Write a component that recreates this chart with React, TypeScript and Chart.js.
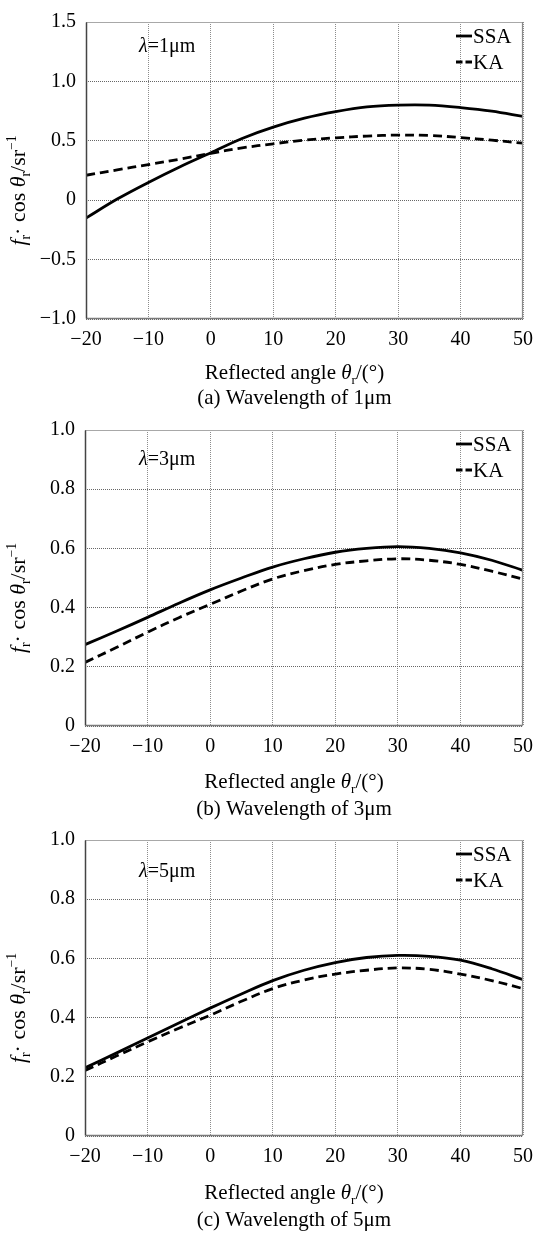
import React, { useEffect, useRef } from "react";
import { Chart, registerables } from "chart.js";

Chart.register(...registerables);

// ---------- data ----------
const angles = [-20, -15, -10, -5, 0, 5, 10, 15, 20, 25, 30, 35, 40, 45, 50];

const ssa1 = [-0.15, 0.01, 0.15, 0.28, 0.4, 0.52, 0.615, 0.69, 0.745, 0.785, 0.8, 0.8, 0.78, 0.75, 0.705];
const ka1 = [0.21, 0.255, 0.3, 0.345, 0.395, 0.44, 0.475, 0.505, 0.525, 0.54, 0.548, 0.545, 0.527, 0.505, 0.48];

const ssa3 = [0.275, 0.32, 0.367, 0.415, 0.46, 0.5, 0.537, 0.565, 0.587, 0.6, 0.606, 0.6, 0.585, 0.56, 0.526];
const ka3 = [0.215, 0.265, 0.317, 0.366, 0.411, 0.456, 0.497, 0.525, 0.546, 0.558, 0.565, 0.56, 0.546, 0.523, 0.496];

const ssa5 = [0.23, 0.28, 0.331, 0.382, 0.432, 0.48, 0.525, 0.56, 0.586, 0.603, 0.61, 0.607, 0.594, 0.565, 0.528];
const ka5 = [0.221, 0.27, 0.318, 0.364, 0.408, 0.455, 0.498, 0.527, 0.547, 0.56, 0.568, 0.563, 0.547, 0.525, 0.498];

const xTickLabels = ["−20", "−10", "0", "10", "20", "30", "40", "50"];
const yTickLabels1 = ["−1.0", "−0.5", "0", "0.5", "1.0", "1.5"];
const yTickLabels35 = ["0", "0.2", "0.4", "0.6", "0.8", "1.0"];
const seriesNames = ["SSA", "KA"];
const wavelengthLabels = ["1μm", "3μm", "5μm"];
const captionLetters = ["a", "b", "c"];

// ---------- layout ----------
const W = 542;
const FONT = '"Liberation Serif", "Times New Roman", serif';

type Panel = {
  canvasTop: number;
  canvasH: number;
  left: number;
  right: number;
  top: number;
  bottom: number;
  yMin: number;
  yMax: number;
  yStep: number;
  yLabels: string[];
  ssa: number[];
  ka: number[];
  lambdaDy: number;
  titleDy: number;
  captionDy: number;
  idx: number;
};

const panels: Panel[] = [
  { canvasTop: 0, canvasH: 420, left: 86, right: 526, top: 17, bottom: 319, yMin: -1, yMax: 1.5, yStep: 0.5, yLabels: yTickLabels1, ssa: ssa1, ka: ka1, lambdaDy: 23, titleDy: 60, captionDy: 85, idx: 0 },
  { canvasTop: 408, canvasH: 420, left: 85, right: 527, top: 423, bottom: 726, yMin: 0, yMax: 1, yStep: 0.2, yLabels: yTickLabels35, ssa: ssa3, ka: ka3, lambdaDy: 28, titleDy: 62, captionDy: 89, idx: 1 },
  { canvasTop: 818, canvasH: 418, left: 85, right: 527, top: 833, bottom: 1136, yMin: 0, yMax: 1, yStep: 0.2, yLabels: yTickLabels35, ssa: ssa5, ka: ka5, lambdaDy: 30, titleDy: 63, captionDy: 90, idx: 2 },
];

// ---------- rich text ----------
type Seg = { t: string; i?: boolean; sub?: boolean; sup?: boolean };

function segFont(s: Seg, size: number) {
  const sz = s.sub || s.sup ? size * 0.62 : size;
  return `${s.i ? "italic " : ""}${sz}px ${FONT}`;
}

function richWidth(ctx: CanvasRenderingContext2D, segs: Seg[], size: number) {
  let w = 0;
  for (const s of segs) {
    ctx.font = segFont(s, size);
    w += ctx.measureText(s.t).width;
  }
  return w;
}

function drawRich(ctx: CanvasRenderingContext2D, segs: Seg[], x: number, y: number, size: number, align: "left" | "center" | "right") {
  const w = richWidth(ctx, segs, size);
  let cx = align === "center" ? x - w / 2 : align === "right" ? x - w : x;
  ctx.textAlign = "left";
  ctx.textBaseline = "alphabetic";
  for (const s of segs) {
    ctx.font = segFont(s, size);
    const dy = s.sub ? size * 0.22 : s.sup ? -size * 0.4 : 0;
    ctx.fillText(s.t, cx, y + dy);
    cx += ctx.measureText(s.t).width;
  }
}

function PanelChart({ p }: { p: Panel }) {
  const ref = useRef<HTMLCanvasElement | null>(null);

  useEffect(() => {
    const canvas = ref.current;
    if (!canvas) return;
    const topLocal = p.top - p.canvasTop;
    const bottomLocal = p.bottom - p.canvasTop;

    const decor = {
      id: "decor" + p.idx,
      afterDraw(chart: any) {
        const ctx: CanvasRenderingContext2D = chart.ctx;
        const a = chart.chartArea;
        ctx.save();
        // frame
        const L = Math.round(a.left) + 0.5;
        const R = Math.round(a.right) - 0.5;
        const T = Math.round(a.top) + 0.5;
        const B = Math.round(a.bottom) - 0.5;
        const seg = (x1: number, y1: number, x2: number, y2: number, c: string, w: number) => {
          ctx.beginPath();
          ctx.setLineDash([]);
          ctx.strokeStyle = c;
          ctx.lineWidth = w;
          ctx.moveTo(x1, y1);
          ctx.lineTo(x2, y2);
          ctx.stroke();
        };
        seg(L, T, R, T, "#a8a8a8", 1.2);
        seg(R, T, R, B, "#8a8a8a", 1.2);
        seg(L, B, R, B, "#7a7a7a", 1.5);
        seg(L, T, L, B, "#444444", 1.5);

        ctx.fillStyle = "#000";
        // legend
        const ds = chart.data.datasets;
        const rows = [a.top + 14, a.top + 40];
        ds.forEach((d: any, i: number) => {
          const yy = rows[i];
          ctx.beginPath();
          ctx.setLineDash(d.borderDash ? [6.5, 3] : []);
          ctx.strokeStyle = "#000";
          ctx.lineWidth = 2.8;
          ctx.moveTo(a.right - 67, yy);
          ctx.lineTo(a.right - 51, yy);
          ctx.stroke();
          ctx.setLineDash([]);
          drawRich(ctx, [{ t: d.label }], a.right - 50, yy + 7, 21, "left");
        });

        // lambda label
        drawRich(ctx, [{ t: "λ", i: true }, { t: "=" + wavelengthLabels[p.idx] }], 139, a.top + p.lambdaDy + 7, 20, "left");

        // x title
        const cxT = (a.left + a.right) / 2 - 10;
        drawRich(ctx, [{ t: "Reflected angle " }, { t: "θ", i: true }, { t: "r", sub: true }, { t: "/(°)" }], cxT, a.bottom + p.titleDy, 21, "center");
        // caption
        drawRich(ctx, [{ t: `(${captionLetters[p.idx]}) Wavelength of ${wavelengthLabels[p.idx]}` }], cxT, a.bottom + p.captionDy, 21, "center");

        // y title
        ctx.save();
        ctx.translate(25, (a.top + a.bottom) / 2 + 20);
        ctx.rotate(-Math.PI / 2);
        drawRich(ctx, [{ t: "f", i: true }, { t: "r", sub: true }, { t: "· cos " }, { t: "θ", i: true }, { t: "r", sub: true }, { t: "/sr" }, { t: "−1", sup: true }], 0, 0, 22, "center");
        ctx.restore();

        ctx.restore();
      },
    };

    const chart = new Chart(canvas, {
      type: "line",
      data: {
        datasets: [
          {
            label: seriesNames[0],
            data: angles.map((x, i) => ({ x, y: p.ssa[i] })),
            borderColor: "#000",
            borderWidth: 2.8,
            pointRadius: 0,
            tension: 0.35,
            fill: false,
          },
          {
            label: seriesNames[1],
            data: angles.map((x, i) => ({ x, y: p.ka[i] })),
            borderColor: "#000",
            borderWidth: 2.8,
            borderDash: [9, 5],
            pointRadius: 0,
            tension: 0.35,
            fill: false,
          },
        ],
      },
      options: {
        animation: false,
        responsive: false,
        devicePixelRatio: 1,
        layout: { padding: { left: 0, top: topLocal, right: W - p.right, bottom: 0 } },
        plugins: { legend: { display: false }, title: { display: false }, tooltip: { enabled: false } },
        scales: {
          x: {
            type: "linear",
            min: -20,
            max: 50,
            ticks: {
              stepSize: 10,
              color: "#000",
              padding: 9,
              maxRotation: 0,
              font: { family: FONT, size: 20 },
              callback: (_v: any, i: number) => xTickLabels[i],
            },
            grid: { color: "#8c8c8c", lineWidth: 1, drawTicks: false },
            border: { display: false, dash: [1, 1] },
            afterFit: (s: any) => {
              s.height = p.canvasH - bottomLocal;
            },
          },
          y: {
            type: "linear",
            min: p.yMin,
            max: p.yMax,
            ticks: {
              stepSize: p.yStep,
              color: "#000",
              padding: 10,
              font: { family: FONT, size: 20 },
              callback: (_v: any, i: number) => p.yLabels[i],
            },
            grid: { color: "#666666", lineWidth: 1, drawTicks: false },
            border: { display: false, dash: [1, 1] },
            afterFit: (s: any) => {
              s.width = p.left;
            },
          },
        },
      },
      plugins: [decor],
    } as any);

    return () => chart.destroy();
  }, [p]);

  return (
    <canvas
      ref={ref}
      width={W}
      height={p.canvasH}
      style={{ position: "absolute", left: 0, top: p.canvasTop, width: W, height: p.canvasH, display: "block" }}
    />
  );
}

export default function App() {
  return (
    <div style={{ position: "absolute", left: 0, top: 0, width: W, height: 1236, background: "#fff", overflow: "hidden" }}>
      {panels.map((p) => (
        <PanelChart key={p.idx} p={p} />
      ))}
    </div>
  );
}
